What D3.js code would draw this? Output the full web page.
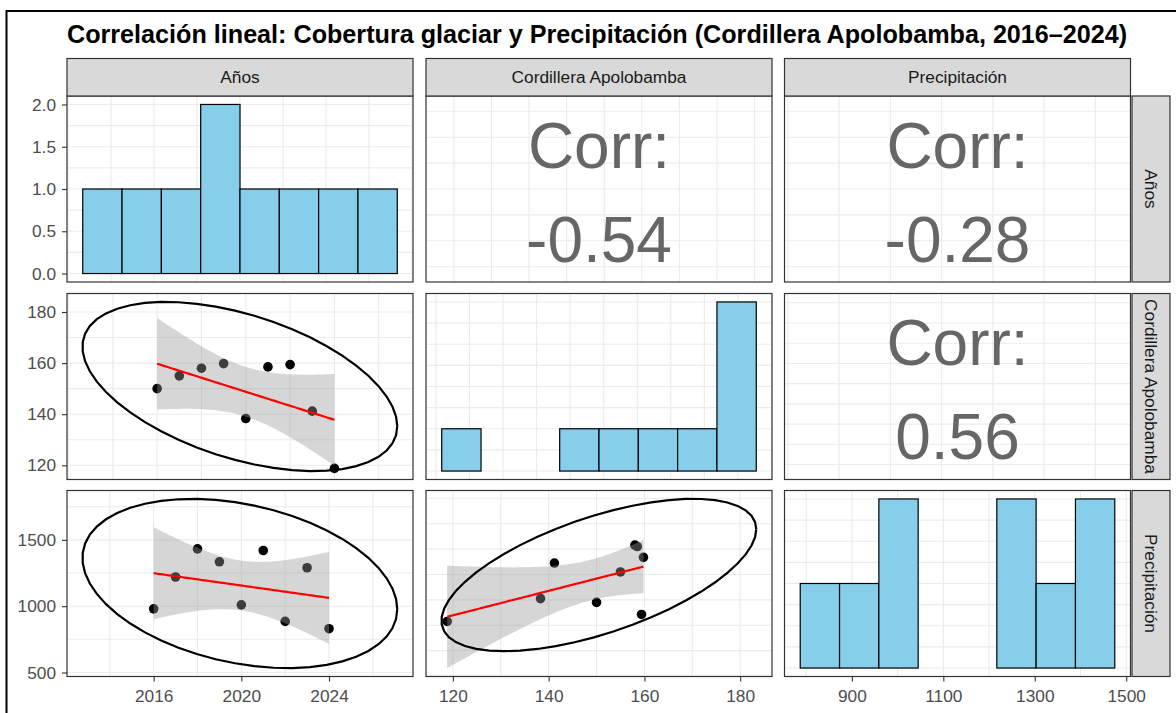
<!DOCTYPE html>
<html><head><meta charset="utf-8">
<script src="https://cdn.jsdelivr.net/npm/d3@7"></script>
<style>
body{margin:0;background:#fff}
text{font-family:"Liberation Sans",Arial,Helvetica,sans-serif}
</style>
</head><body>
<svg id="chart" width="1176" height="713"></svg>
<script>
// ---------------- data ----------------
const title = "Correlación lineal: Cobertura glaciar y Precipitación (Cordillera Apolobamba, 2016–2024)";
const varNames = ["Años", "Cordillera Apolobamba", "Precipitación"];
const anios = [2016, 2017, 2018, 2019, 2020, 2021, 2022, 2023, 2024];
const cordillera = [150, 155, 158, 159.8, 138.3, 158.5, 159.4, 141.2, 118.8];
const precipitacion = [980, 1220, 1432, 1335, 1010, 1420, 885, 1290, 830];
const corrLabels = [[null, "-0.54", "-0.28"], [null, null, "0.56"]];
const yTickValues = [[0, 0.5, 1, 1.5, 2], [120, 140, 160, 180], [500, 1000, 1500]];
const xTickValues = [[2016, 2020, 2024], [120, 140, 160, 180], [900, 1100, 1300, 1500]];
const histBins = 8;
// grid spacing (x, y) per panel [row][col]
const gridSteps = [
  [[1.25, 0.25], [5, 1.25], [100, 1.25]],
  [[2, 10], [5, 0.5], [100, 5]],
  [[2, 250], [10, 200], [100, 0.25]]
];
const T975 = 2.3646; // qt(0.975, n - 2) for n = 9
const vars = [anios, cordillera, precipitacion];

// ---------------- layout ----------------
const svg = d3.select("#chart");
const colX = [67, 426, 784.5], panelW = 346;
const rowY = [96, 293.5, 490.5], panelH = 186;
const stripTop = 58.5, stripRightX = 1132, stripRightW = 38;
const gridColor = "#EBEBEB", borderColor = "#333333", stripFill = "#D9D9D9";
const fontSize = 17.3;

svg.append("rect").attr("x", 6.5).attr("y", 11).attr("width", 1200).attr("height", 720)
  .attr("fill", "none").attr("stroke", "#000").attr("stroke-width", 2);

const tEl = svg.append("text").attr("x", 67).attr("y", 42.5)
  .attr("font-weight", "bold").attr("font-size", 20).attr("fill", "#000").text(title);
const tLen = tEl.node().getComputedTextLength();
tEl.attr("font-size", 20 * 1061 / tLen);

function expand(ext, mult = 0.05) {
  const d = ext[1] - ext[0];
  return [ext[0] - d * mult, ext[1] + d * mult];
}

function covTrob(pts, nu = 5, maxit = 25, tol = 0.01) {
  const n = pts.length, p = 2;
  let loc = [d3.mean(pts, d => d[0]), d3.mean(pts, d => d[1])];
  let w = pts.map(() => 1);
  let X;
  for (let it = 0; it < maxit; it++) {
    const w0 = w.slice();
    X = pts.map(d => [d[0] - loc[0], d[1] - loc[1]]);
    const sw = d3.sum(w);
    let a = 0, b = 0, c = 0;
    X.forEach((x, i) => { const f = w[i] / sw; a += f * x[0] * x[0]; b += f * x[0] * x[1]; c += f * x[1] * x[1]; });
    const det = a * c - b * b;
    const Q = X.map(x => (c * x[0] * x[0] - 2 * b * x[0] * x[1] + a * x[1] * x[1]) / det);
    w = Q.map(q => (nu + p) / (nu + q));
    const sw2 = d3.sum(w);
    loc = [d3.sum(pts, (d, i) => w[i] * d[0]) / sw2, d3.sum(pts, (d, i) => w[i] * d[1]) / sw2];
    if (w.every((v, i) => Math.abs(v - w0[i]) < tol)) break;
  }
  let a = 0, b = 0, c = 0;
  X.forEach((x, i) => { a += w[i] * x[0] * x[0]; b += w[i] * x[0] * x[1]; c += w[i] * x[1] * x[1]; });
  return { cov: [[a / n, b / n], [b / n, c / n]], center: loc };
}

function scatterModel(xs, ys) {
  const n = xs.length;
  const pts = xs.map((x, i) => [x, ys[i]]);
  const mx = d3.mean(xs), my = d3.mean(ys);
  const sxx = d3.sum(xs, x => (x - mx) ** 2);
  const sxy = d3.sum(pts, p => (p[0] - mx) * (p[1] - my));
  const b = sxy / sxx, a = my - b * mx;
  const s = Math.sqrt(d3.sum(pts, p => (p[1] - a - b * p[0]) ** 2) / (n - 2));
  const [x0, x1] = d3.extent(xs);
  const smooth = d3.range(80).map(i => {
    const x = x0 + (x1 - x0) * i / 79, f = a + b * x;
    const se = s * Math.sqrt(1 / n + (x - mx) ** 2 / sxx);
    return { x, y: f, lo: f - T975 * se, hi: f + T975 * se };
  });
  const { cov, center } = covTrob(pts);
  const dfd = n - 1;
  const qf = (dfd / 2) * (Math.pow(0.05, -2 / dfd) - 1);
  const radius = Math.sqrt(2 * qf);
  const R11 = Math.sqrt(cov[0][0]), R12 = cov[0][1] / R11, R22 = Math.sqrt(cov[1][1] - R12 * R12);
  const ell = d3.range(52).map(i => {
    const t = i * 2 * Math.PI / 51, c = Math.cos(t), sn = Math.sin(t);
    return [center[0] + radius * c * R11, center[1] + radius * (c * R12 + sn * R22)];
  });
  const xDom = expand(d3.extent([...xs, ...ell.map(e => e[0])]));
  const yDom = expand(d3.extent([...ys, ...ell.map(e => e[1]), ...smooth.map(d => d.lo), ...smooth.map(d => d.hi)]));
  return { pts, smooth, ell, xDom, yDom };
}

function histModel(vals) {
  const [mn, mx] = d3.extent(vals);
  const w = (mx - mn) / (histBins - 1);
  const breaks = d3.range(histBins + 1).map(i => mn - w / 2 + i * w);
  const fuzz = 1e-8 * w;
  const fb = breaks.map((b, i) => i === 0 ? b - fuzz : b + fuzz);
  const counts = new Array(histBins).fill(0);
  vals.forEach(v => { const k = d3.bisectLeft(fb, v) - 1; counts[Math.max(0, Math.min(histBins - 1, k))]++; });
  const bins = counts.map((c, i) => ({ x0: breaks[i], x1: breaks[i + 1], count: c }));
  return { bins, xDom: expand([breaks[0], breaks[histBins]]), yDom: expand([0, d3.max(counts)]) };
}

const panels = [];
for (let r = 0; r < 3; r++) {
  panels.push([]);
  for (let c = 0; c < 3; c++) {
    const x0 = colX[c], y0 = rowY[r];
    let model, type;
    if (r === c) { type = "hist"; model = histModel(vars[c]); }
    else if (r > c) { type = "scatter"; model = scatterModel(vars[c], vars[r]); }
    else {
      type = "corr";
      const rx = d3.extent(vars[c]), ry = d3.extent(vars[r]);
      const dx = rx[1] - rx[0], dy = ry[1] - ry[0];
      model = { xDom: expand([rx[0] - 0.01 * dx, rx[1] + 0.01 * dx]), yDom: expand([ry[0] - 0.01 * dy, ry[1] + 0.01 * dy]) };
    }
    const xs = d3.scaleLinear().domain(model.xDom).range([x0, x0 + panelW]);
    const ys = d3.scaleLinear().domain(model.yDom).range([y0 + panelH, y0]);
    panels[r].push({ type, model, xs, ys, x0, y0 });

    const g = svg.append("g");
    const clipId = `clip-${r}-${c}`;
    g.append("clipPath").attr("id", clipId).append("rect")
      .attr("x", x0).attr("y", y0).attr("width", panelW).attr("height", panelH);
    g.append("rect").attr("x", x0).attr("y", y0).attr("width", panelW).attr("height", panelH).attr("fill", "#fff");
    const inner = g.append("g").attr("clip-path", `url(#${clipId})`);
    const [gsx, gsy] = gridSteps[r][c];
    const gx = d3.range(Math.ceil(model.xDom[0] / gsx), Math.floor(model.xDom[1] / gsx) + 1).map(k => k * gsx);
    const gy = d3.range(Math.ceil(model.yDom[0] / gsy), Math.floor(model.yDom[1] / gsy) + 1).map(k => k * gsy);
    inner.selectAll(".gx").data(gx).join("line").attr("x1", d => xs(d)).attr("x2", d => xs(d))
      .attr("y1", y0).attr("y2", y0 + panelH).attr("stroke", gridColor).attr("stroke-width", 1.1);
    inner.selectAll(".gy").data(gy).join("line").attr("y1", d => ys(d)).attr("y2", d => ys(d))
      .attr("x1", x0).attr("x2", x0 + panelW).attr("stroke", gridColor).attr("stroke-width", 1.1);

    if (type === "hist") {
      inner.selectAll(".bar").data(model.bins).join("rect")
        .attr("x", d => xs(d.x0)).attr("width", d => xs(d.x1) - xs(d.x0))
        .attr("y", d => ys(d.count)).attr("height", d => ys(0) - ys(d.count))
        .attr("fill", "#87CEEB").attr("stroke", "#000").attr("stroke-width", 1.2);
    } else if (type === "scatter") {
      inner.selectAll(".pt").data(model.pts).join("circle")
        .attr("cx", d => xs(d[0])).attr("cy", d => ys(d[1])).attr("r", 4.8).attr("fill", "#000");
      inner.append("path").datum(model.smooth)
        .attr("d", d3.area().x(d => xs(d.x)).y0(d => ys(d.lo)).y1(d => ys(d.hi)))
        .attr("fill", "#999999").attr("fill-opacity", 0.4);
      inner.append("path").datum(model.smooth)
        .attr("d", d3.line().x(d => xs(d.x)).y(d => ys(d.y)))
        .attr("fill", "none").attr("stroke", "#FF0000").attr("stroke-width", 2.2);
      inner.append("path").datum(model.ell)
        .attr("d", d3.line().x(d => xs(d[0])).y(d => ys(d[1])))
        .attr("fill", "none").attr("stroke", "#000").attr("stroke-width", 2.2);
    } else {
      const cx = x0 + panelW / 2, cy = y0 + panelH / 2;
      inner.append("text").attr("x", cx).attr("y", cy - 21.5).attr("text-anchor", "middle")
        .attr("font-size", 64).attr("fill", "#666666").text("Corr:");
      inner.append("text").attr("x", cx).attr("y", cy + 72.5).attr("text-anchor", "middle")
        .attr("font-size", 64).attr("fill", "#666666").text(corrLabels[r][c]);
    }
    g.append("rect").attr("x", x0).attr("y", y0).attr("width", panelW).attr("height", panelH)
      .attr("fill", "none").attr("stroke", borderColor).attr("stroke-width", 1.2);
  }
}

// strips
for (let c = 0; c < 3; c++) {
  svg.append("rect").attr("x", colX[c]).attr("y", stripTop).attr("width", panelW).attr("height", rowY[0] - stripTop)
    .attr("fill", stripFill).attr("stroke", borderColor).attr("stroke-width", 1.2);
  svg.append("text").attr("x", colX[c] + panelW / 2).attr("y", (stripTop + rowY[0]) / 2)
    .attr("dy", "0.35em").attr("text-anchor", "middle").attr("font-size", fontSize).attr("fill", "#1A1A1A")
    .text(varNames[c]);
}
for (let r = 0; r < 3; r++) {
  svg.append("rect").attr("x", stripRightX).attr("y", rowY[r]).attr("width", stripRightW).attr("height", panelH)
    .attr("fill", stripFill).attr("stroke", borderColor).attr("stroke-width", 1.2);
  const tx = stripRightX + stripRightW / 2, ty = rowY[r] + panelH / 2;
  svg.append("text").attr("transform", `translate(${tx},${ty}) rotate(90)`)
    .attr("dy", "0.35em").attr("text-anchor", "middle").attr("font-size", fontSize).attr("fill", "#1A1A1A")
    .text(varNames[r]);
}

// axes
function styleAxis(g) {
  g.select(".domain").remove();
  g.selectAll(".tick line").attr("stroke", borderColor).attr("stroke-width", 1.1);
  g.selectAll(".tick text").attr("fill", "#4D4D4D").attr("font-size", fontSize)
    .attr("font-family", "'Liberation Sans',Arial,sans-serif");
}
for (let r = 0; r < 3; r++) {
  const p = panels[r][0];
  const fmt = r === 0 ? d3.format(".1f") : d3.format("d");
  svg.append("g").attr("transform", `translate(${colX[0]},0)`)
    .call(d3.axisLeft(p.ys).tickValues(yTickValues[r]).tickFormat(fmt).tickSize(5).tickPadding(6))
    .call(styleAxis);
}
for (let c = 0; c < 3; c++) {
  const p = panels[2][c];
  svg.append("g").attr("transform", `translate(0,${rowY[2] + panelH})`)
    .call(d3.axisBottom(p.xs).tickValues(xTickValues[c]).tickFormat(d3.format("d")).tickSize(5).tickPadding(8))
    .call(styleAxis);
}
</script>
</body></html>
